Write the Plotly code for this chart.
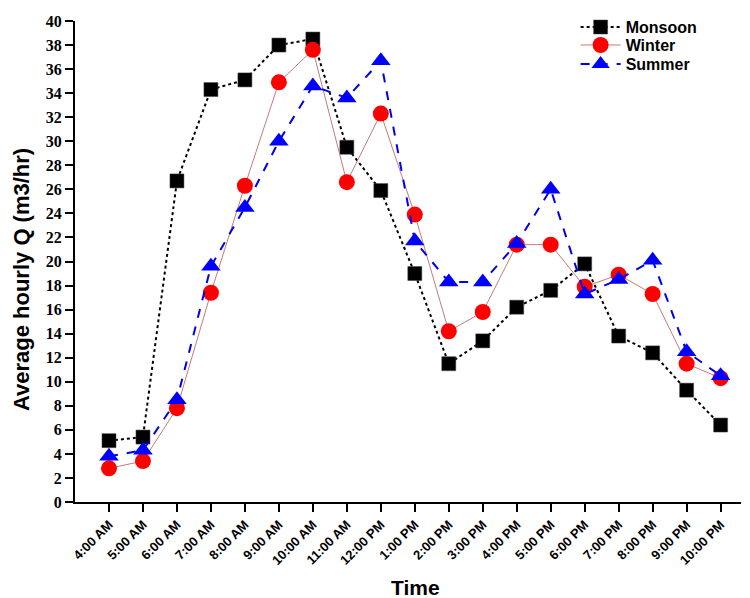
import plotly.graph_objects as go

times = ["4:00 AM", "5:00 AM", "6:00 AM", "7:00 AM", "8:00 AM", "9:00 AM", "10:00 AM",
         "11:00 AM", "12:00 PM", "1:00 PM", "2:00 PM", "3:00 PM", "4:00 PM", "5:00 PM",
         "6:00 PM", "7:00 PM", "8:00 PM", "9:00 PM", "10:00 PM"]
monsoon = [5.1, 5.4, 26.7, 34.3, 35.1, 38.0, 38.5, 29.5, 25.9, 19.0, 11.5, 13.4, 16.2, 17.6,
           19.8, 13.8, 12.4, 9.3, 6.4]
winter = [2.8, 3.4, 7.8, 17.4, 26.3, 34.9, 37.6, 26.6, 32.3, 23.9, 14.2, 15.8, 21.4, 21.4,
          17.9, 18.9, 17.3, 11.5, 10.3]
summer = [3.8, 4.3, 8.5, 19.6, 24.5, 30.0, 34.6, 33.6, 36.7, 21.7, 18.3, 18.3, 21.5, 26.0,
          17.3, 18.5, 20.1, 12.5, 10.5]
y_ticks = list(range(0, 41, 2))
x_title = "Time"
y_title = "Average hourly Q (m3/hr)"

xs = list(range(len(times)))

fig = go.Figure()
fig.add_trace(go.Scatter(
    x=xs, y=monsoon, name="Monsoon", mode="lines+markers", legend="legend",
    line=dict(color="black", width=2, dash="dot"),
    marker=dict(symbol="square", size=14, color="black", line=dict(color="#444", width=0.5)),
))
fig.add_trace(go.Scatter(
    x=xs, y=winter, name="Winter", mode="lines+markers", legend="legend2",
    line=dict(color="#c47a7a", width=1),
    marker=dict(symbol="circle", size=16, color="#ff0000", line=dict(width=0)),
))
fig.add_trace(go.Scatter(
    x=xs, y=summer, name="Summer", mode="lines+markers", legend="legend3",
    line=dict(color="#0000ee", width=2, dash="dash"),
    marker=dict(symbol="triangle-up", size=17, color="#0000ff", line=dict(width=0)),
))

legend_font = dict(family="Liberation Sans, Arial", size=16, color="black", weight="bold")


def leg(yc):
    return dict(x=0.765, y=yc, xref="container", yref="container", xanchor="left", yanchor="middle",
                font=legend_font, bgcolor="rgba(0,0,0,0)", itemwidth=40)


title_font = dict(family="Liberation Sans, Arial", color="black", weight="bold")

fig.update_layout(
    width=742, height=598,
    margin=dict(l=67, r=9, t=13, b=104, autoexpand=False),
    paper_bgcolor="white", plot_bgcolor="white",
    showlegend=True,
    legend=leg(0.968),
    legend2=leg(0.938),
    legend3=leg(0.906),
    xaxis=dict(
        range=[-1, 18.6], automargin=False,
        tickmode="array", tickvals=xs, ticktext=times, tickangle=-45,
        tickfont=dict(family="Liberation Sans, Arial", size=13, color="black", weight="bold"),
        ticks="outside", ticklen=8, tickwidth=2, tickcolor="black",
        showline=True, linecolor="black", linewidth=2,
        showgrid=False, zeroline=False,
    ),
    yaxis=dict(
        range=[0, 40], automargin=False,
        tickmode="array", tickvals=y_ticks,
        tickfont=dict(family="Liberation Serif, Times New Roman", size=16, color="black", weight="bold"),
        ticks="outside", ticklen=8, tickwidth=2, tickcolor="black",
        showline=True, linecolor="black", linewidth=2,
        showgrid=False, zeroline=False,
    ),
    annotations=[
        dict(text=x_title, xref="paper", yref="paper", x=0.512, y=-0.177,
             xanchor="center", yanchor="middle", showarrow=False,
             font=dict(size=21, **title_font)),
        dict(text=y_title, xref="paper", yref="paper", x=-0.081, y=0.4615,
             xanchor="center", yanchor="middle", showarrow=False, textangle=-90,
             font=dict(size=22, **title_font)),
    ],
)

fig.write_html("out.html")
